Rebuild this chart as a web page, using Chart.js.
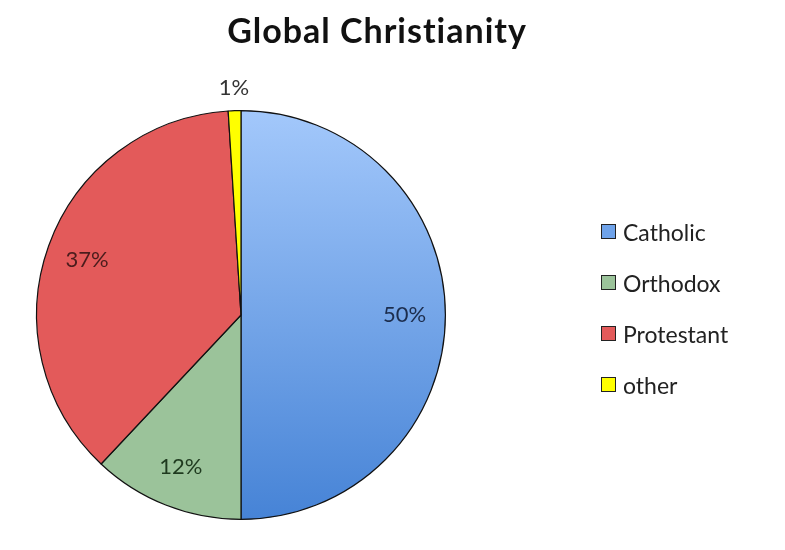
<!DOCTYPE html>
<html>
<head>
<meta charset="utf-8">
<script src="https://cdn.jsdelivr.net/npm/chart.js@4/dist/chart.umd.min.js"></script>
<style>
  body { margin: 0; background: #fff; font-family: Lato, "Open Sans", sans-serif; }
  #wrap { position: relative; width: 785px; height: 550px; }
  #titulo { position: absolute; left: 0; width: 754px; top: 9px; text-align: center;
            font-size: 34px; font-weight: bold; letter-spacing: 1px; color: #111; }
  #legenda { position: absolute; left: 601px; top: 218px; }
  .item { height: 51px; font-size: 23px; color: #222; display: flex; align-items: flex-start; }
  .caixa { width: 13px; height: 13px; border: 1.5px solid #222; margin-right: 7px; margin-top: 6px; }
</style>
</head>
<body>
<div id="wrap">
  <canvas id="meuGrafico" width="785" height="550"></canvas>
  <div id="titulo">Global Christianity</div>
  <div id="legenda"></div>
</div>
<script>
// Dados do gráfico
const categorias = ['Catholic', 'Orthodox', 'Protestant', 'other'];
const valores = [50, 12, 37, 1];
const cores = ['#6fa3ea', '#9bc39a', '#e35a5a', '#ffff00'];
const coresTexto = ['#1c2d4d', '#1f3a1f', '#4a1c1c', '#333333'];

// Legenda em HTML
const legenda = document.getElementById('legenda');
categorias.forEach((nome, i) => {
    const div = document.createElement('div');
    div.className = 'item';
    div.innerHTML = '<span class="caixa" style="background:' + cores[i] + '"></span>' + nome;
    legenda.appendChild(div);
});

// Rótulos de porcentagem
const rotulos = {
    id: 'rotulos',
    afterDatasetsDraw(chart) {
        const ctx = chart.ctx;
        const meta = chart.getDatasetMeta(0);
        const total = valores.reduce((a, b) => a + b, 0);
        ctx.save();
        ctx.font = '22px Lato, "Open Sans", sans-serif';
        ctx.textAlign = 'center';
        ctx.textBaseline = 'middle';
        meta.data.forEach((arc, i) => {
            const p = arc.getProps(['x', 'y', 'startAngle', 'endAngle', 'outerRadius']);
            const meio = (p.startAngle + p.endAngle) / 2;
            const fator = valores[i] / total < 0.05 ? 1.11 : 0.8;
            const x = p.x + Math.cos(meio) * p.outerRadius * fator;
            const y = p.y + Math.sin(meio) * p.outerRadius * fator;
            ctx.fillStyle = coresTexto[i];
            ctx.fillText(Math.round(valores[i] / total * 100) + '%', x, y);
        });
        ctx.restore();
    }
};

const ctx = document.getElementById('meuGrafico').getContext('2d');
const meuGrafico = new Chart(ctx, {
    type: 'pie',
    data: {
        labels: categorias,
        datasets: [{
            data: valores,
            backgroundColor: (c) => {
                const area = c.chart.chartArea;
                if (c.dataIndex === 0 && area) {
                    const g = c.chart.ctx.createLinearGradient(0, area.top, 0, area.bottom);
                    g.addColorStop(0, '#a3c8fb');
                    g.addColorStop(1, '#4683d6');
                    return g;
                }
                return cores[c.dataIndex];
            },
            borderColor: '#111',
            borderWidth: 1.2,
            hoverOffset: 0
        }]
    },
    options: {
        responsive: false,
        animation: false,
        layout: { padding: { left: 36, right: 339, top: 110, bottom: 30 } },
        plugins: {
            legend: { display: false },
            tooltip: { enabled: false }
        }
    },
    plugins: [rotulos]
});
</script>
</body>
</html>
